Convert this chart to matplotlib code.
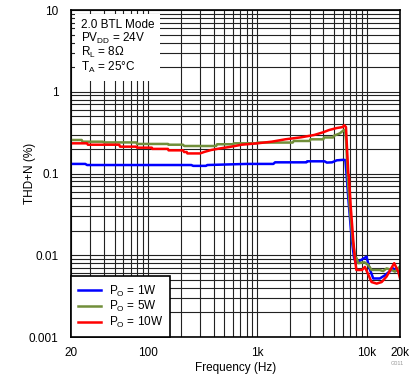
"""THD+N vs frequency, 2.0 BTL mode, three output power levels."""

import matplotlib
matplotlib.use("Agg")
import matplotlib.pyplot as plt
from matplotlib.ticker import LogLocator, FixedLocator, FixedFormatter, NullFormatter

plt.rcParams["font.family"] = ["Liberation Sans", "DejaVu Sans"]
plt.rcParams["mathtext.fontset"] = "custom"
plt.rcParams["mathtext.rm"] = "Liberation Sans"

# --- data (Hz, %) ---
freq_1w = [20, 27, 28, 250, 260, 340, 350, 800, 1400, 1450, 2800, 2850, 4100,
           4300, 4800, 5300, 6100, 6350, 6500, 6750, 7000, 7250, 7600, 7900,
           9900, 10500, 11400, 13100, 14600, 17300, 19300, 20000]
thd_1w = [0.131, 0.131, 0.127, 0.127, 0.124, 0.124, 0.127, 0.131, 0.131, 0.137,
          0.137, 0.141, 0.141, 0.136, 0.137, 0.145, 0.147, 0.146, 0.10, 0.05,
          0.028, 0.016, 0.0095, 0.0080, 0.0096, 0.0070, 0.0052, 0.0052, 0.0057,
          0.0069, 0.0063, 0.0065]

freq_5w = [20, 25, 25.5, 39, 40, 79, 80, 153, 155, 210, 215, 420, 430, 600,
           610, 990, 1000, 2100, 2150, 3000, 3050, 4000, 4050, 4900, 5000,
           5660, 6150, 6300, 6450, 6700, 7000, 7400, 7800, 8040, 8320, 9500,
           10260, 11000, 13100, 14000, 15100, 16800, 18000, 20000]
thd_5w = [0.257, 0.257, 0.245, 0.245, 0.240, 0.240, 0.230, 0.230, 0.225, 0.225,
          0.217, 0.217, 0.228, 0.228, 0.234, 0.234, 0.239, 0.239, 0.25, 0.25,
          0.262, 0.262, 0.276, 0.276, 0.29, 0.31, 0.34, 0.34, 0.25, 0.08,
          0.035, 0.015, 0.0095, 0.0092, 0.0080, 0.0082, 0.0076, 0.0066, 0.0066,
          0.0064, 0.0069, 0.0066, 0.0063, 0.0073]

freq_10w = [20, 28, 28.5, 55, 56, 79, 80, 109, 110, 153, 155, 210, 215, 227,
            230, 300, 330, 380, 460, 580, 720, 1000, 1350, 1800, 2500, 3300,
            4000, 4500, 5300, 6000, 6200, 6430, 6750, 6850, 7100, 7490, 7760,
            8000, 9000, 9570, 11000, 12250, 13600, 15100, 17700, 19300, 20000]
thd_10w = [0.234, 0.234, 0.225, 0.225, 0.213, 0.213, 0.207, 0.207, 0.200, 0.200,
           0.192, 0.192, 0.183, 0.183, 0.176, 0.176, 0.184, 0.194, 0.203, 0.213,
           0.225, 0.234, 0.245, 0.262, 0.277, 0.296, 0.32, 0.34, 0.36, 0.37,
           0.39, 0.37, 0.10, 0.09, 0.04, 0.0154, 0.009, 0.0066, 0.0066, 0.0072,
           0.0047, 0.0045, 0.0047, 0.0055, 0.0080, 0.0063, 0.0052]

x_ticks = [20, 100, 1000, 10000, 20000]
x_tick_labels = ["20", "100", "1k", "10k", "20k"]
y_ticks = [0.001, 0.01, 0.1, 1, 10]
y_tick_labels = ["0.001", "0.01", "0.1", "1", "10"]

fig = plt.figure(figsize=(4.19, 3.82), dpi=100)
ax = fig.add_axes([0.1695, 0.1178, 0.7852, 0.856])

ax.set_xscale("log")
ax.set_yscale("log")
ax.set_xlim(20, 20000)
ax.set_ylim(0.001, 10)

# --- curves ---
ax.plot(freq_1w, thd_1w, color="#0000FF", linewidth=1.8,
        label=r"P$_\mathregular{O}$ = 1W")
ax.plot(freq_5w, thd_5w, color="#718F3A", linewidth=1.8,
        label=r"P$_\mathregular{O}$ = 5W")
ax.plot(freq_10w, thd_10w, color="#FF0000", linewidth=1.8,
        label=r"P$_\mathregular{O}$ = 10W")

# --- grid ---
ax.xaxis.set_minor_locator(LogLocator(base=10, subs=range(2, 10), numticks=20))
ax.yaxis.set_minor_locator(LogLocator(base=10, subs=range(2, 10), numticks=20))
ax.xaxis.set_minor_formatter(NullFormatter())
ax.yaxis.set_minor_formatter(NullFormatter())
ax.grid(True, which="both", color="#222222", linewidth=0.8)
ax.set_axisbelow(True)

ax.xaxis.set_major_locator(FixedLocator(x_ticks))
ax.xaxis.set_major_formatter(FixedFormatter(x_tick_labels))
ax.yaxis.set_major_locator(FixedLocator(y_ticks))
ax.yaxis.set_major_formatter(FixedFormatter(y_tick_labels))
ax.tick_params(which="both", length=0, labelsize=8.5, colors="black")
ax.tick_params(axis="x", pad=7)
ax.tick_params(axis="y", pad=9)

for s in ax.spines.values():
    s.set_linewidth(1.2)
    s.set_color("black")

ax.set_xlabel("Frequency (Hz)", fontsize=8.5, labelpad=2)
ax.set_ylabel("THD+N (%)", fontsize=8.5, va="center")
ax.yaxis.set_label_coords(-0.125, 0.5)

# --- conditions box ---
cond = ("2.0 BTL Mode\n"
        r"PV$_\mathregular{DD}$ = 24V" "\n"
        r"R$_\mathregular{L}$ = 8$\mathregular{\Omega}$" "\n"
        r"T$_\mathregular{A}$ = 25°C")
ax.text(0.03, 0.972, cond, transform=ax.transAxes, fontsize=8.5,
        va="top", ha="left", linespacing=0.95, zorder=5,
        bbox=dict(boxstyle="square,pad=0.5", facecolor="white", edgecolor="none"))

leg = ax.legend(loc="lower left", fontsize=8.5, frameon=True, fancybox=False,
                borderaxespad=0, handlelength=1.9, handletextpad=0.7,
                labelspacing=0.05, borderpad=0.6)
leg.get_frame().set_edgecolor("black")
leg.get_frame().set_linewidth(1.2)
leg.get_frame().set_alpha(1)

fig.text(0.965, 0.045, "G011", fontsize=4, color="#999999", ha="right")

fig.savefig("out.png", dpi=100)
